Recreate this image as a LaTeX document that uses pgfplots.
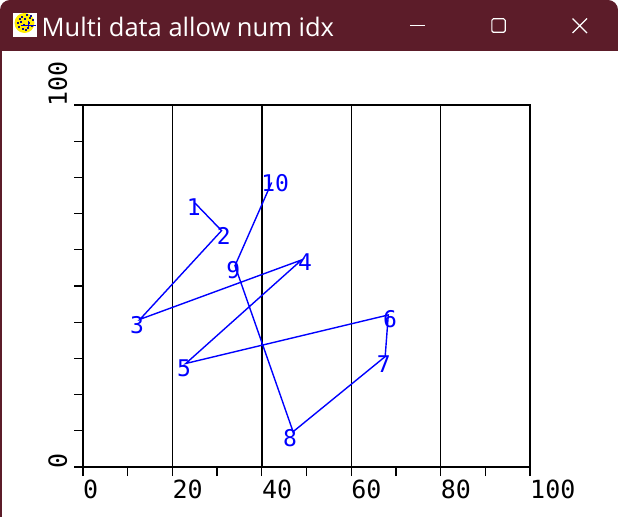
\documentclass[border=0pt]{standalone}
\usepackage{pgfplots}
\pgfplotsset{compat=1.18}
\usepackage{fontspec}
\setmainfont{Open Sans}
\setmonofont{DejaVu Sans Mono}
\definecolor{barcol}{HTML}{5C1C29}
\definecolor{icblue}{HTML}{101080}
\begin{document}
\begin{tikzpicture}[x=1pt,y=1pt]
\useasboundingbox (0,0) rectangle (618,517);
% window chrome
\fill[white] (0,0) rectangle (618,517);
\fill[barcol] (0,466) -- (0,507) arc (180:90:10) -- (608,517) arc (90:0:10) -- (618,466) -- cycle;
\fill[barcol] (0,0) rectangle (2,470);
% icon
\fill[white] (13,480.3) rectangle (36.7,504);
\fill[yellow!95!orange] (24.5,494) circle (10);
\foreach \a/\b in {18/489,20/494,21/499,23/491,24/497,26/501,27/488,28/493,29/498,31/490,19/497,25/486,30/500,22/487,17/493,32/496}{
  \fill[icblue] (\a,\b) rectangle +(1.5,1.5);}
\fill[blue!80!black] (21,491) rectangle (36,492.3);
\fill[blue!80!black] (28,488) rectangle (29.2,496);
% title and buttons
\node[anchor=base west,inner sep=0pt,text=white,font=\fontsize{25.5}{25.5}\selectfont] at (41.5,480.5) {Multi data allow num idx};
\draw[white,line width=1pt] (410,491.7) -- (425,491.7);
\draw[white,line width=1.1pt,rounded corners=1.5pt] (491.8,484.7) rectangle (505.2,498.2);
\draw[white,line width=1.1pt] (572.5,484) -- (587,498.5) (572.5,498.5) -- (587,484);
\begin{axis}[
  at={(83pt,50pt)}, anchor=south west,
  scale only axis, width=447pt, height=362pt,
  xmin=0, xmax=100, ymin=0, ymax=100,
  xtick={0,20,40,60,80,100},
  ytick={0,100},
  minor x tick num=1,
  minor y tick num=9,
  xmajorgrids,
  tick pos=left,
  major grid style={black,line width=1.4pt},
  tick align=outside,
  major tick length=9pt,
  minor tick length=9pt,
  tick style={black,line width=1.3pt},
  minor tick style={black,line width=1.3pt},
  axis line style={black,line width=1.6pt},
  /pgf/number format/assume math mode=true,
  tick label style={font=\ttfamily\fontsize{25}{25}\selectfont},
  xticklabel style={anchor=base west,inner sep=0pt,xshift=0pt,yshift=-22pt},
  yticklabel style={rotate=90,anchor=base west,inner sep=0pt,xshift=-2pt,yshift=7pt},
  clip=false,
]
\addplot[blue,line width=1.4pt,mark=none] coordinates {
 (25.06,72.9) (31.0,65.3) (12.75,40.8) (48.9,57.2) (23.0,28.6)
 (68.3,42.0) (67.6,30.5) (47.0,9.75) (34.0,55.6) (42.2,78.6)};
\addplot[draw=none,mark=none,
  nodes near coords,point meta=explicit symbolic,
  nodes near coords style={anchor=center,inner sep=0pt,text=blue,font=\ttfamily\fontsize{23}{23}\selectfont}]
  table[meta=label,row sep=\\]{
 x y label\\
 24.8 71.8 1\\
 31.5 63.8 2\\
 12.1 39.2 3\\
 49.7 56.6 4\\
 22.6 27.3 5\\
 68.7 40.9 6\\
 67.3 28.5 7\\
 46.3 8.0 8\\
 33.6 54.4 9\\
 43.0 78.5 10\\
};
\end{axis}
\end{tikzpicture}
\end{document}
